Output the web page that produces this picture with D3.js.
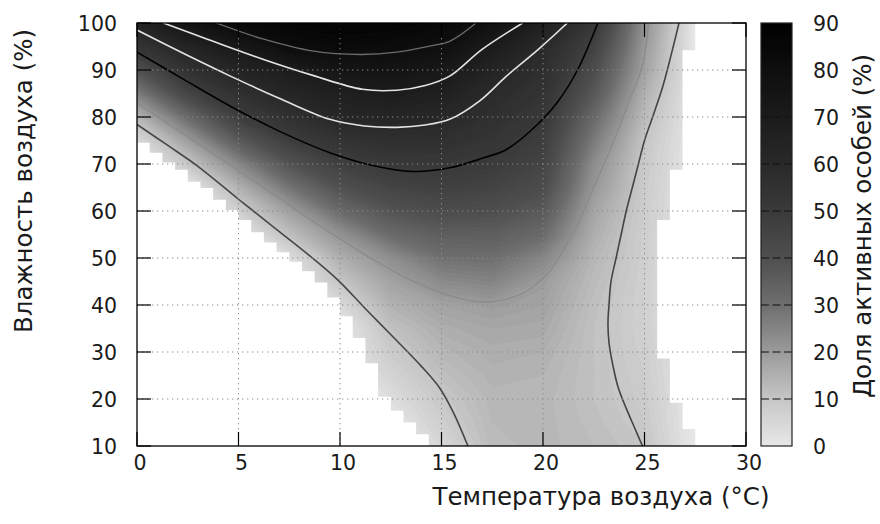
<!DOCTYPE html>
<html><head><meta charset="utf-8">
<script src="https://cdn.jsdelivr.net/npm/d3@7"></script>
<style>
body{margin:0;background:#fff}
svg{display:block}
text{font-family:"DejaVu Sans",sans-serif;fill:#1a1a1a}
</style>
</head><body>
<svg id="c" width="880" height="524"></svg>
<script>
// ---------------- DATA ----------------
const temps = [0, 2.5, 5, 7.5, 10, 12.5, 15, 17.5, 20, 22.5, 25, 27.5, 30];
const hums = [10, 15, 20, 25, 30, 35, 40, 45, 50, 55, 60, 65, 70, 75, 80, 85, 90, 95, 100];
const N = null; // no data (white)
// activity[r][c] : share of active individuals (%) at humidity hums[r], temperature temps[c]
const activity = [
  [N, N, N, N, N, N, 5, 12.5, 13.5, 12, 10, N, N],
  [N, N, N, N, N, N, 7.5, 13, 13.5, 11.5, 9, N, N],
  [N, N, N, N, N, 3, 9.3, 13.5, 13.5, 11, 8.5, N, N],
  [N, N, N, N, N, 6, 11.5, 14.5, 14, 11, 8, N, N],
  [N, N, N, N, N, 8.5, 13.5, 15.5, 15, 11, 7.5, N, N],
  [N, N, N, N, N, 11, 15.5, 17, 16.5, 11, 7, N, N],
  [N, N, N, N, 4.5, 14.5, 18, 19.5, 18, 11.5, 7, N, N],
  [N, N, N, N, 10, 18, 23.5, 25, 19.5, 12.5, 7, N, N],
  [N, N, N, 3, 15, 22.5, 29.5, 30, 24.5, 13.5, 7.5, N, N],
  [N, N, N, 11.5, 21.5, 31, 35, 35, 31, 15.5, 7.5, N, N],
  [N, N, 7.5, 18.5, 31, 38.5, 41.5, 40.5, 36.5, 17.5, 8, N, N],
  [N, N, 14.5, 28.5, 39.5, 45, 47, 45.5, 41.5, 20.5, 8.5, N, N],
  [N, 9.5, 24, 38.5, 47, 50.6, 51, 49.5, 45, 23, 9, N, N],
  [4, 19, 36, 48, 54, 56.5, 56, 53, 48, 27, 10, N, N],
  [13.5, 31, 47.5, 55, 61.8, 62.5, 61, 56, 51, 31.5, 12.5, N, N],
  [26, 44.5, 55.5, 62.5, 67, 69, 66.5, 59, 54, 37, 15, N, N],
  [39, 54.5, 63, 69, 74, 75.5, 72, 63.5, 56.5, 41.5, 18, N, N],
  [52.5, 63.5, 72, 80.7, 83, 82, 79, 69.5, 59.5, 46, 20, N, N],
  [63, 75, 83, 86, 87, 86.5, 84, 77.5, 66, 51.5, 22, N, N]
];
// edges of the no-data (white) areas
const leftMaskT = [0, 0.625, 1.25, 1.875, 2.5, 3.125, 3.75, 4.375, 5, 5.625, 6.25, 6.875, 7.5, 8.125, 8.75, 9.375, 10, 10.625, 11.25, 11.875, 12.5, 13.125, 13.75, 14.375];
const leftMaskH = [74.5, 72.4, 70.3, 68.8, 66.2, 64.9, 62.4, 60.2, 58.1, 55.5, 53.3, 51.2, 49.2, 47.2, 44.8, 41.6, 37.6, 33.0, 27.6, 20.5, 17.5, 15.0, 12.5, 10];
const rightMaskH = [10, 13.6, 19.2, 28.6, 58.1, 68.8, 94.2, 100];
const rightMaskT = [27.5, 26.875, 26.25, 25.625, 26.25, 26.875, 27.5];
// contour lines: [temperature, humidity]
const contour10a = [[0,78.4],[1.5,74],[3,69.5],[5,62.5],[6.9,56],[8.5,50.5],[9.9,45.3],[11.3,39],[12.8,32.4],[14,27],[14.9,22.4],[15.6,17],[16.3,10]];
const contour10b = [[24.9,10],[24.5,14],[24.1,18],[23.7,22.5],[23.45,27],[23.25,32],[23.2,36],[23.25,40],[23.35,45],[23.6,50],[23.85,55],[24.1,60],[24.4,65],[24.7,70],[25.0,75],[25.4,80],[25.9,86.5],[26.3,93],[26.7,100]];
const contour20 = [[0,83],[1.2,79.5],[4,71.5],[6.9,63],[9.3,56],[11.5,50],[13.5,45.3],[15.4,42],[17.1,40.6],[19,42.5],[20.2,46.5],[20.7,49.5],[21.3,54],[21.8,58],[22.6,66],[23.5,75],[24.3,84],[24.9,91],[25.2,100]];
const contour50 = [[0,93.8],[2.3,88],[4.6,82.3],[7,77],[9.5,72.4],[11.5,69.8],[13.6,68.4],[15.4,69.2],[17,71.2],[18.2,73.1],[19.5,77.5],[20.7,83.1],[21.7,90],[22.7,100]];
const contour60 = [[0,98.5],[2.3,93.5],[4.6,88.7],[7,84],[9.5,79.5],[11.2,78.1],[12.8,77.8],[14.2,78.3],[15.4,79.5],[16.9,83.5],[18.2,88.7],[19.8,94.5],[21.2,100]];
const contour70 = [[1.3,100],[3.5,96.5],[6.2,92.3],[8.7,88.8],[11.1,85.9],[12.8,85.7],[14.2,86.7],[15.4,88.7],[17,94.4],[19,100]];
const contour80 = [[3.9,100],[6.2,96.6],[8.7,94],[11,93.3],[12.8,93.8],[14.4,95.1],[15.4,96.1],[16.7,100]];
const xTicks = [0, 5, 10, 15, 20, 25, 30];
const yTicks = [10, 20, 30, 40, 50, 60, 70, 80, 90, 100];
const cbTicks = [0, 10, 20, 30, 40, 50, 60, 70, 80, 90];
const xTitle = "Температура воздуха (°C)";
const yTitle = "Влажность воздуха (%)";
const cbTitle = "Доля активных особей (%)";

// ---------------- STYLE ----------------
const grayStops = [[0,"#e8e8e8"],[10,"#c6c6c6"],[20,"#9a9a9a"],[30,"#6e6e6e"],[40,"#4f4f4f"],[50,"#3a3a3a"],[60,"#292929"],[70,"#1b1b1b"],[80,"#0e0e0e"],[90,"#000000"]];
const color = d3.scaleLinear().domain(grayStops.map(d=>d[0])).range(grayStops.map(d=>d[1])).clamp(true);

const L = 137, R = 746, T = 23, B = 446;
const x = d3.scaleLinear().domain([0, 30]).range([L, R]);
const y = d3.scaleLinear().domain([10, 100]).range([B, T]);

const svg = d3.select("#c");
const defs = svg.append("defs");
defs.append("clipPath").attr("id","plotclip").append("rect")
  .attr("x",L).attr("y",T).attr("width",R-L).attr("height",B-T);

// ---- heat map via filled contour bands ----
const nx = temps.length, ny = hums.length;
const dT = temps[1]-temps[0], dH = hums[1]-hums[0];
const values = activity.flat().map(v => v == null ? 0 : v);
const thresholds = d3.range(0, 91, 1);
const bands = d3.contours().size([nx, ny]).thresholds(thresholds)(values);
const proj = d3.geoTransform({point(px, py){
  this.stream.point(x(temps[0] + (px - 0.5) * dT), y(hums[0] + (py - 0.5) * dH));
}});
const gpath = d3.geoPath(proj);
const plot = svg.append("g").attr("clip-path","url(#plotclip)");
plot.append("rect").attr("x",L).attr("y",T).attr("width",R-L).attr("height",B-T).attr("fill",color(0));
plot.append("g").selectAll("path").data(bands).join("path")
  .attr("d", gpath).attr("fill", d => color(d.value + 0.5)).attr("stroke", d => color(d.value + 0.5)).attr("stroke-width",0.4);

// ---- white no-data areas ----
const leftPts = [[0,10]].concat(leftMaskT.map((t,i)=>[t, leftMaskH[i]]));
plot.append("path").attr("fill","#fff")
  .attr("d", d3.line().x(d=>x(d[0])).y(d=>y(d[1])).curve(d3.curveStepAfter)(leftPts) + "Z");
const rightPts = [[30,10]];
rightMaskT.forEach((t,i)=>{ rightPts.push([t, rightMaskH[i]]); rightPts.push([t, rightMaskH[i+1]]); });
rightPts.push([30,100]);
plot.append("path").attr("fill","#fff")
  .attr("d", d3.line().x(d=>x(d[0])).y(d=>y(d[1]))(rightPts) + "Z");

// ---- contour lines ----
const cl = d3.line().x(d=>x(d[0])).y(d=>y(d[1])).curve(d3.curveCatmullRom.alpha(0.5));
const lines = plot.append("g").attr("fill","none");
const lineSpecs = [
  [contour20, "#8a8a8a", 1.2],
  [contour10a, "#474747", 1.6],
  [contour10b, "#444444", 1.6],
  [contour50, "#000000", 1.6],
  [contour60, "#e4e4e4", 1.6],
  [contour70, "#e4e4e4", 1.6],
  [contour80, "#6c6c6c", 1.3]
];
lineSpecs.forEach(([pts, c, w]) => lines.append("path").attr("d", cl(pts)).attr("stroke", c).attr("stroke-width", w));

// ---- grid ----
const grid = svg.append("g").attr("stroke","#8a8a8a").attr("stroke-width",1).attr("stroke-dasharray","1.3,3.7");
grid.selectAll("line.gx").data(xTicks.slice(1,-1)).join("line")
  .attr("x1",d=>x(d)).attr("x2",d=>x(d)).attr("y1",T).attr("y2",B);
grid.selectAll("line.gy").data(yTicks.slice(1,-1)).join("line")
  .attr("x1",L).attr("x2",R).attr("y1",d=>y(d)).attr("y2",d=>y(d));

// ---- ticks & frame ----
const tl = 14;
const tk = svg.append("g").attr("stroke","#000").attr("stroke-width",1.2);
xTicks.forEach(v => {
  tk.append("line").attr("x1",x(v)).attr("x2",x(v)).attr("y1",B).attr("y2",B-tl);
  tk.append("line").attr("x1",x(v)).attr("x2",x(v)).attr("y1",T).attr("y2",T+tl);
});
yTicks.forEach(v => {
  tk.append("line").attr("x1",L).attr("x2",L+tl).attr("y1",y(v)).attr("y2",y(v));
  tk.append("line").attr("x1",R).attr("x2",R-tl).attr("y1",y(v)).attr("y2",y(v));
});
svg.append("rect").attr("x",L).attr("y",T).attr("width",R-L).attr("height",B-T)
  .attr("fill","none").attr("stroke","#000").attr("stroke-width",1.3);

// ---- tick labels ----
const fs = 20.5;
svg.append("g").selectAll("text").data(xTicks).join("text")
  .attr("x", d=>x(d)+3).attr("y", 470).attr("text-anchor","middle").attr("font-size",fs).text(d=>d);
svg.append("g").selectAll("text").data(yTicks).join("text")
  .attr("x", 117).attr("y", d=>y(d)+7.5).attr("text-anchor","end").attr("font-size",fs).text(d=>d);

// ---- titles ----
svg.append("text").attr("x",601).attr("y",505).attr("text-anchor","middle").attr("font-size",24.5).text(xTitle);
svg.append("text").attr("transform","translate(32,181) rotate(-90)").attr("text-anchor","middle").attr("font-size",24.5).text(yTitle);

// ---- color bar ----
const cbX = 761, cbW = 31;
const cb = d3.scaleLinear().domain([0, 90]).range([B, T]);
const grad = defs.append("linearGradient").attr("id","cbg").attr("x1",0).attr("y1",1).attr("x2",0).attr("y2",0);
d3.range(0, 90.01, 2).forEach(v => grad.append("stop").attr("offset", v/90).attr("stop-color", color(v)));
svg.append("rect").attr("x",cbX).attr("y",T).attr("width",cbW).attr("height",B-T).attr("fill","url(#cbg)");
svg.append("g").selectAll("line").data(cbTicks.slice(1,-1)).join("line")
  .attr("x1",cbX).attr("x2",cbX+cbW).attr("y1",d=>cb(d)).attr("y2",d=>cb(d))
  .attr("stroke","#111").attr("stroke-width",1.1).attr("stroke-dasharray","8,3.5");
svg.append("rect").attr("x",cbX).attr("y",T).attr("width",cbW).attr("height",B-T)
  .attr("fill","none").attr("stroke","#222").attr("stroke-width",1.2);
svg.append("g").selectAll("text").data(cbTicks).join("text")
  .attr("x", 813).attr("y", d=>cb(d)+7.5).attr("font-size",fs).text(d=>d);
svg.append("text").attr("transform","translate(871,226) rotate(-90)").attr("text-anchor","middle").attr("font-size",24.5).text(cbTitle);
</script>
</body></html>
